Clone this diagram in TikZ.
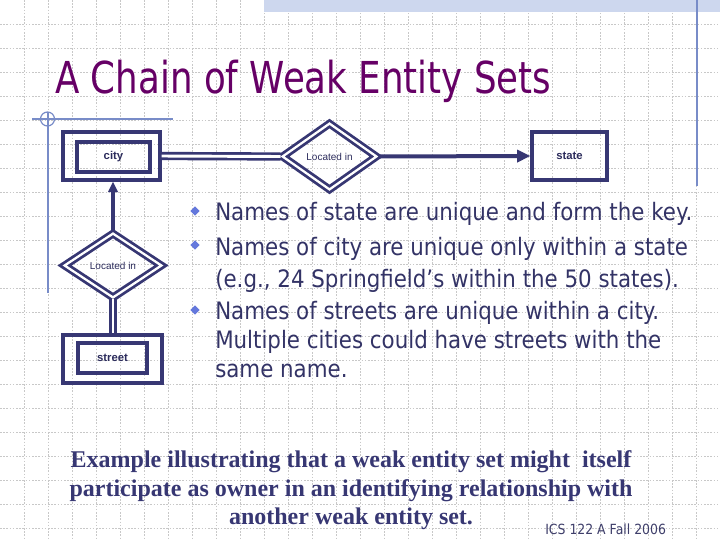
\documentclass[tikz,border=0pt]{standalone}
\usepackage{fontspec}
\usetikzlibrary{shapes.geometric,arrows.meta}
\setmainfont{Liberation Serif}
\newfontfamily\tahoma[FakeStretch=0.89]{DejaVu Sans}
\newfontfamily\tahomat[FakeStretch=0.81]{DejaVu Sans}
\newfontfamily\arialf{Liberation Sans}
\definecolor{navy}{RGB}{55,55,115}
\definecolor{titlecol}{RGB}{102,0,102}
\definecolor{bodycol}{RGB}{51,51,102}
\definecolor{bulcol}{RGB}{100,120,220}
\definecolor{gridcol}{RGB}{200,200,200}
\definecolor{rulecol}{RGB}{120,140,200}
\definecolor{bandcol}{RGB}{205,215,238}
\tikzset{
  gridl/.style={draw=gridcol,line width=0.6pt,dash pattern=on 1.2pt off 1.2pt},
  rulel/.style={draw=rulecol,line width=0.9pt},
  entbox/.style={draw=navy,line width=2.3pt,rectangle,inner sep=0pt,minimum height=36pt},
  entin/.style={draw=navy,line width=2.3pt,rectangle,inner sep=0pt,minimum height=22.5pt,
     text=navy!80!black,font=\arialf\bfseries\fontsize{8.5pt}{10pt}\selectfont},
  reldia/.style={diamond,draw=navy,line width=2.1pt,double=white,double distance=1.7pt,inner sep=0pt,
     text=navy!80!black,font=\arialf\fontsize{7.5pt}{9pt}\selectfont},
  dblline/.style={draw=navy,line width=2pt,double=white,double distance=2.2pt},
  arrline/.style={draw=navy,line width=3pt,-{Triangle[length=10pt,width=9pt]}},
  arrline2/.style={draw=navy,line width=2.5pt,-{Triangle[length=8pt,width=7pt]}},
  bul/.style={diamond,fill=bulcol,inner sep=0pt,minimum size=7pt},
  bodyt/.style={anchor=base west,inner sep=0pt,text=bodycol,font=\tahoma\fontsize{18pt}{21pt}\selectfont},
  bott/.style={anchor=base,inner sep=0pt,text=navy,font=\bfseries\fontsize{18pt}{21pt}\selectfont},
}
\begin{document}
\begin{tikzpicture}[x=0.75pt,y=-0.75pt]
\useasboundingbox (0,0) rectangle (720,540);
\fill[white] (0,0) rectangle (720,540);
% grid
\foreach \i in {24,48,...,696} \draw[gridl] (\i,0) -- (\i,540);
\foreach \j in {24,48,...,528} \draw[gridl] (0,\j) -- (720,\j);
% top band
\fill[bandcol] (264,0) rectangle (720,12);
\draw[rulel] (697,0) -- (697,186);
% left rules
\draw[rulel] (32,119) -- (173,119);
\draw[rulel] (48,112) -- (48,293);
\draw[rulel] (47.5,119) circle[radius=7];
% title
\node[anchor=base west,inner sep=0pt,text=titlecol,font=\tahomat\fontsize{33pt}{36pt}\selectfont] (title) at (55,93) {A Chain of Weak Entity Sets};
% diagram
\node[entbox,minimum width=72.75pt] (city) at (111.5,156) {};
\node[entin,minimum width=54.75pt] (cityin) at (113.5,157) {city};
\node[entbox,minimum width=56.25pt,text=navy!80!black,font=\arialf\bfseries\fontsize{8.5pt}{10pt}\selectfont] (state) at (569.5,156) {state};
\node[reldia,minimum width=71.25pt,minimum height=50.25pt] (rel1) at (329.5,156.5) {Located in};
\node[reldia,minimum width=73.5pt,minimum height=48.75pt] (rel2) at (113,265.5) {Located in};
\node[entbox,minimum width=74.25pt] (street) at (112.5,359) {};
\node[entin,minimum width=51.75pt] (streetin) at (112.5,358) {street};
\draw[dblline] (city.east) -- (rel1.west);
\draw[arrline] (rel1.east) -- (state.west);
\draw[arrline2] (rel2.north) -- (city.south -| rel2.north);
\draw[dblline] (rel2.south) -- (street.north -| rel2.south);
% bullets
\node[bul] (b1) at (195,211) {};
\node[bul] (b2) at (195,245) {};
\node[bul] (b3) at (195,310) {};
\node[bodyt] (t1) at (215,220) {Names of state are unique and form the key.};
\node[bodyt] (t2) at (215,255) {Names of city are unique only within a state};
\node[bodyt] (t3) at (215,287) {(e.g., 24 Springfield’s within the 50 states).};
\node[bodyt] (t4) at (215,319) {Names of streets are unique within a city.};
\node[bodyt] (t5) at (215,348) {Multiple cities could have streets with the};
\node[bodyt] (t6) at (215,377) {same name.};
% bottom
\node[bott] (e1) at (351,467) {Example illustrating that a weak entity set might\ \ itself};
\node[bott] (e2) at (351,496) {participate as owner in an identifying relationship with};
\node[bott] (e3) at (351,524) {another weak entity set.};
\node[anchor=base west,inner sep=0pt,text=bodycol!85!gray,font=\tahoma\fontsize{10.5pt}{12pt}\selectfont] (foot) at (545,534) {ICS 122 A Fall 2006};
\end{tikzpicture}
\end{document}
